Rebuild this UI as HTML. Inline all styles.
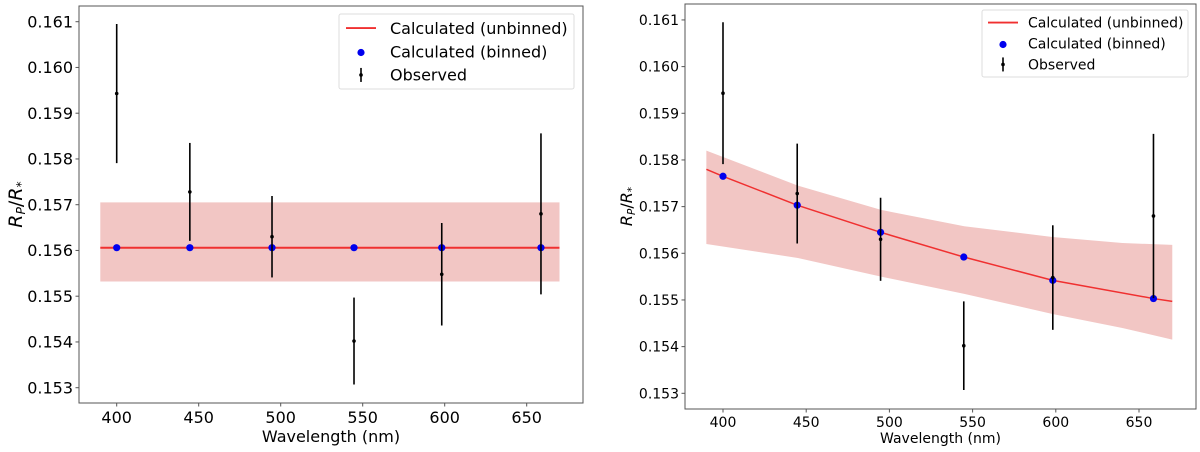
<!DOCTYPE html>
<html><head><meta charset="utf-8"><style>
html,body{margin:0;padding:0;background:#fff;}
svg{display:block;font-family:"DejaVu Sans","Liberation Sans",sans-serif;}
</style></head><body>
<svg id="chart" width="1200" height="452" viewBox="0 0 1200 452"></svg>
<script>
const wavelengths = [400, 444.6, 494.7, 544.7, 598.2, 658.7];
const observed = [0.15943, 0.15728, 0.15630, 0.15402, 0.15548, 0.15680];
const observedErr = [0.00152, 0.00107, 0.00089, 0.00095, 0.00112, 0.00176];
const flatValue = 0.15606;
const flatBandLow = 0.15532;
const flatBandHigh = 0.15705;
const curveX = [390, 400, 444.6, 494.7, 544.7, 598.2, 658.7, 670];
const curveY = [0.15780, 0.15765, 0.15703, 0.15645, 0.15592, 0.15542, 0.15503, 0.15497];
const binnedRight = [0.15765, 0.15703, 0.15645, 0.15592, 0.15542, 0.15503];
const bandX = [390, 445, 495, 545, 598, 640, 670];
const bandHigh = [0.15820, 0.15745, 0.15693, 0.15658, 0.15635, 0.15622, 0.15618];
const bandLow = [0.15620, 0.15590, 0.15550, 0.15513, 0.15470, 0.15440, 0.15415];
const xTicks = [400, 450, 500, 550, 600, 650];
const yTicks = [0.153, 0.154, 0.155, 0.156, 0.157, 0.158, 0.159, 0.160, 0.161];
const yTickLabels = ["0.153","0.154","0.155","0.156","0.157","0.158","0.159","0.160","0.161"];

const NS = "http://www.w3.org/2000/svg";
const svg = document.getElementById('chart');
function mk(tag, attrs, parent) {
  const e = document.createElementNS(NS, tag);
  for (const k in attrs) e.setAttribute(k, attrs[k]);
  (parent || svg).appendChild(e);
  return e;
}

function panel(cfg) {
  const g = mk('g', {});
  
  
  const X = v => cfg.x400 + (v - 400) * cfg.px50 / 50;
  const Y = v => cfg.y153 - (v - 0.153) * cfg.py1 / 0.001;
  const fs = cfg.fs;
  let d;
  if (cfg.flat) {
    d = `M${X(390)},${Y(flatBandHigh)}L${X(670)},${Y(flatBandHigh)}L${X(670)},${Y(flatBandLow)}L${X(390)},${Y(flatBandLow)}Z`;
  } else {
    d = 'M' + bandX.map((x,i)=>X(x)+','+Y(bandHigh[i])).join('L') + 'L' +
        bandX.slice().reverse().map((x,i)=>X(x)+','+Y(bandLow[bandX.length-1-i])).join('L') + 'Z';
  }
  const band = mk('path', {d: d, fill: '#f2c6c4'}, g);
  
  
  let ld;
  if (cfg.flat) ld = `M${X(390)},${Y(flatValue)}L${X(670)},${Y(flatValue)}`;
  else ld = 'M' + curveX.map((x,i)=>X(x)+','+Y(curveY[i])).join('L');
  const line = mk('path', {d: ld, fill: 'none', stroke: '#f03030', 'stroke-width': cfg.flat ? 2 : 1.5}, g);
  
  
  wavelengths.forEach((w,i) => {
    const v = cfg.flat ? flatValue : binnedRight[i];
    const c = mk('circle', {cx: X(w), cy: Y(v), r: 3.6, fill: '#0000ee'}, g);
    
    
  });
  wavelengths.forEach((w,i) => {
    const eb = mk('line', {x1: X(w), x2: X(w), y1: Y(observed[i]+observedErr[i]), y2: Y(observed[i]-observedErr[i]), stroke: '#000', 'stroke-width': 1.6}, g);
    
    
    const p = mk('circle', {cx: X(w), cy: Y(observed[i]), r: 1.8, fill: '#000'}, g);
    
    
  });
  const fr = mk('rect', {x: cfg.left, y: cfg.top, width: cfg.right-cfg.left, height: cfg.bottom-cfg.top, fill: 'none', stroke: '#555', 'stroke-width': 1}, g);
  
  
  xTicks.forEach(t => {
    mk('line', {x1: X(t), x2: X(t), y1: cfg.bottom, y2: cfg.bottom+3.5, stroke: '#555'}, g);
    const tx = mk('text', {x: X(t), y: cfg.bottom + fs + 4, 'font-size': fs, 'text-anchor': 'middle'}, g);
    tx.textContent = String(t);
    
    
  });
  yTicks.forEach((t,i) => {
    mk('line', {x1: cfg.left-3.5, x2: cfg.left, y1: Y(t), y2: Y(t), stroke: '#555'}, g);
    const ty = mk('text', {x: cfg.left-6, y: Y(t) + fs*0.36, 'font-size': fs, 'text-anchor': 'end'}, g);
    ty.textContent = yTickLabels[i];
    
    
  });
  const xl = mk('text', {x: (cfg.left+cfg.right)/2, y: cfg.xlabelY, 'font-size': fs, 'text-anchor': 'middle'}, g);
  xl.textContent = 'Wavelength (nm)';
  
  
  const yfs = cfg.yfs;
  const yl = mk('text', {x: 0, y: 0, 'font-size': yfs, 'text-anchor': 'middle', transform: `translate(${cfg.ylabelX},${(cfg.top+cfg.bottom)/2}) rotate(-90)`}, g);
  yl.innerHTML = '<tspan font-style="italic">R</tspan><tspan font-style="italic" font-size="' + (yfs*0.65) + '" dy="3">P</tspan><tspan dy="-3">/</tspan><tspan font-style="italic">R</tspan><tspan font-size="' + (yfs*0.65) + '" dy="3">*</tspan>';
  
  
  const L = cfg.leg;
  const lg = mk('g', {}, g);
  
  
  mk('rect', {x: L.x, y: L.y, width: L.w, height: L.h, fill: '#fff', stroke: '#ddd', rx: 2}, lg);
  const rowH = L.h / 3.2;
  const names = ['Calculated (unbinned)', 'Calculated (binned)', 'Observed'];
  names.forEach((n,i) => {
    const cy = L.y + rowH*(i+0.6);
    const sx = L.x + L.s;
    if (i===0) mk('line', {x1: sx-15, x2: sx+15, y1: cy, y2: cy, stroke: '#f03030', 'stroke-width': 1.8}, lg);
    if (i===1) mk('circle', {cx: sx, cy: cy+1, r: 3.6, fill: '#0000ee'}, lg);
    if (i===2) { mk('line', {x1: sx, x2: sx, y1: cy-7, y2: cy+7, stroke: '#000', 'stroke-width': 1.6}, lg); mk('circle', {cx: sx, cy: cy, r: 1.8, fill: '#000'}, lg); }
    const t = mk('text', {x: L.x + L.tx, y: cy + L.fs*0.36, 'font-size': L.fs}, lg);
    t.textContent = n;
    
    
  });
}

panel({name:'left-panel', flat:true, left:79, right:583, top:6, bottom:403, x400:116.7, px50:82, y153:387.7, py1:45.75, fs:16, yfs:19, xlabelY:442, ylabelX:22,
  leg:{x:339, y:14, w:235, h:75, s:22, tx:51, fs:16}});
panel({name:'right-panel', flat:false, left:685, right:1196, top:4, bottom:409, x400:723, px50:83.2, y153:393.3, py1:46.67, fs:14, yfs:16, xlabelY:443, ylabelX:632,
  leg:{x:982, y:10, w:206, h:67, s:21, tx:46, fs:14}});
</script>
</body></html>
